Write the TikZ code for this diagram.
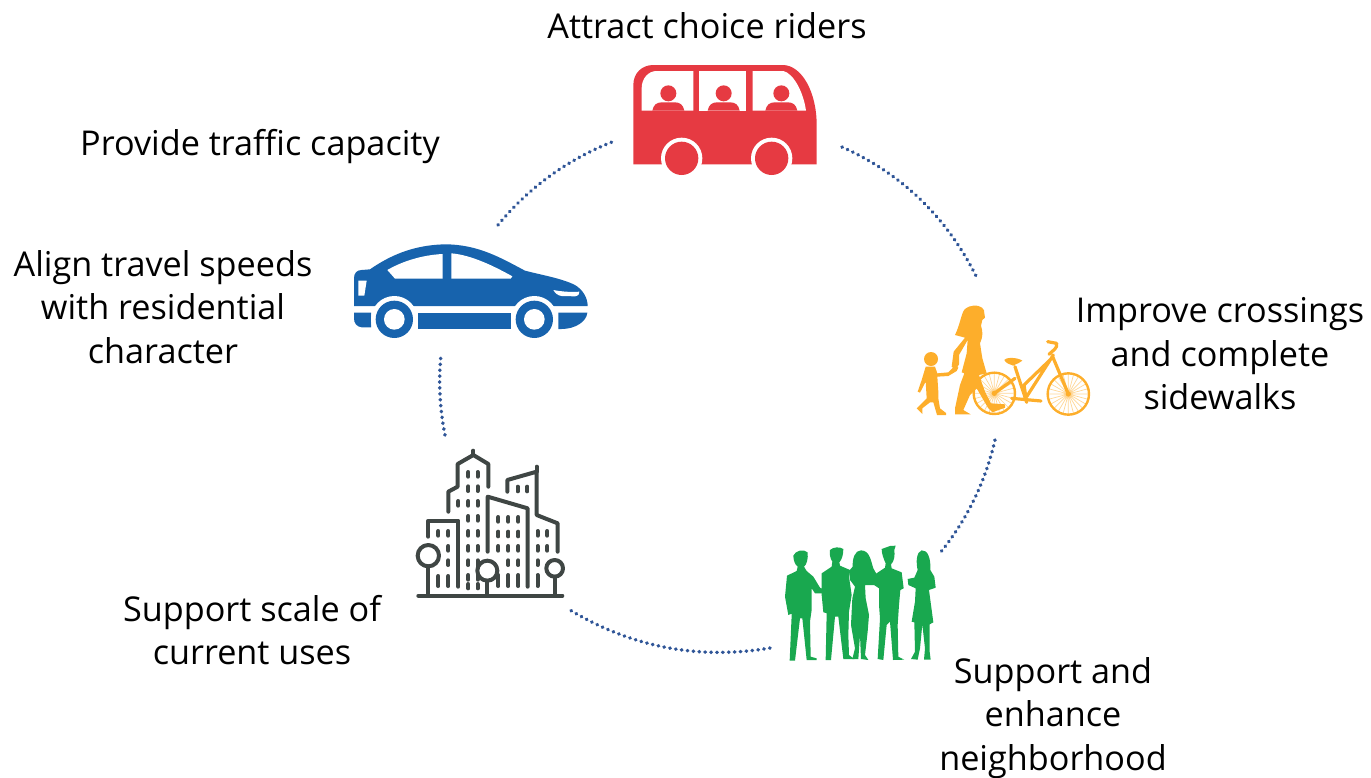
\documentclass[tikz,border=0pt]{standalone}
\usepackage{fontspec}
\usetikzlibrary{calc}
\setmainfont{Open Sans}
\definecolor{busred}{HTML}{E63A42}
\definecolor{carblue}{HTML}{1763AD}
\definecolor{walkorange}{HTML}{FDAE2B}
\definecolor{crowdgreen}{HTML}{19A84F}
\definecolor{citygrey}{HTML}{3F4644}
\definecolor{arcblue}{HTML}{2F5597}
\newcommand{\arcquad}[3]{\draw[arcline] (#1) .. controls ($(#1)!0.6667!(#2)$) and ($(#3)!0.6667!(#2)$) .. (#3);}
\tikzset{
  lbl/.style={align=center,inner sep=0pt,font=\fontsize{34.2}{43.5}\selectfont,text=black},
  arcline/.style={draw=arcblue,line width=3.6pt,line cap=round,dash pattern=on 0.4pt off 5.5pt},
  citystroke/.style={draw=citygrey,line width=4pt,line cap=round,line join=round},
  cityhole/.style={draw=citygrey,line width=4pt,line cap=round},
  icon/.style={scale=1/3},
}
\begin{document}
\begin{tikzpicture}[x=1pt,y=-1pt]
\useasboundingbox (0,0) rectangle (1371,777);
% labels
\node[lbl] (riders) at (707,26) {Attract choice riders};
\node[lbl] (capacity) at (260,147) {Provide traffic capacity};
\node[lbl] (speeds) at (163,307) {Align travel speeds\\with residential\\character};
\node[lbl] (crossings) at (1220,354) {Improve crossings\\and complete\\sidewalks};
\node[lbl] (neigh) at (1053,718) {Support and\\enhance\\neighborhood};
\node[lbl] (scale) at (252,630) {Support scale of\\current uses};
% arcs
\coordinate (a1) at (842,147); \coordinate (a1c) at (932.5,187.5); \coordinate (a2) at (977,278);
\coordinate (b1) at (995,440); \coordinate (b1c) at (980.5,503); \coordinate (b2) at (940,553);
\coordinate (c1) at (770,648); \coordinate (c1c) at (663,666); \coordinate (c2) at (570,610);
\coordinate (d1) at (445,435); \coordinate (d1c) at (437,395); \coordinate (d2) at (441,355);
\coordinate (e1) at (498,225); \coordinate (e1c) at (544,169); \coordinate (e2) at (612,142);
\arcquad{a1}{a1c}{a2}
\arcquad{b1}{b1c}{b2}
\arcquad{c1}{c1c}{c2}
\arcquad{d1}{d1c}{d2}
\arcquad{e1}{e1c}{e2}
% bus
\begin{scope}[shift={(620,55)},icon]
\fill[busred] (40,328) -- (40,90) .. controls (40,55) and (65,30) .. (100,30) -- (490,30) .. controls (545,32) and (590,110) .. (590,210) -- (590,328) -- cycle;
\fill[white] (65,167) -- (65,100) .. controls (65,70) and (85,48) .. (110,48) -- (220,48) -- (220,167) -- cycle;
\fill[white] (238,48) -- (378,48) -- (378,167) -- (238,167) -- cycle;
\fill[white] (398,167) -- (398,48) -- (490,48) .. controls (520,55) and (550,110) .. (558,167) -- cycle;
\foreach \p in {145,311,484}{
  \fill[busred] (\p,115) circle[radius=24];
  \fill[busred] (\p-48,167) .. controls (\p-45,150) and (\p-35,142) .. (\p-20,142) -- (\p+20,142) .. controls (\p+35,142) and (\p+45,150) .. (\p+48,167) -- cycle;
}
\foreach \p in {185,455}{
  \fill[white] (\p,310) circle[radius=62];
  \fill[busred] (\p,310) circle[radius=50];
}
\end{scope}
% car
\begin{scope}[shift={(345,235)},icon]
\fill[carblue] (27,213) -- (27,130) .. controls (27,115) and (35,105) .. (50,105) -- (75,103) .. controls (130,65) and (200,30) .. (300,28) .. controls (400,28) and (470,70) .. (540,107) .. controls (590,120) and (650,130) .. (690,150) .. controls (715,165) and (728,190) .. (728,213) -- cycle;
\fill[carblue] (27,233) -- (78,233) -- (78,277) -- (50,277) .. controls (35,275) and (27,265) .. (27,250) -- cycle;
\fill[carblue] (219,234) -- (497,234) -- (497,282) -- (219,282) -- cycle;
\fill[carblue] (640,233) -- (727,233) .. controls (725,260) and (690,282) .. (650,282) -- (640,282) -- cycle;
\fill[white] (127,105) .. controls (170,80) and (230,60) .. (293,57) -- (293,131) -- (150,131) -- cycle;
\fill[white] (319,55) .. controls (380,60) and (450,95) .. (502,124) -- (497,131) -- (319,131) -- cycle;
\fill[white] (40,137) -- (65,137) -- (58,182) -- (40,182) -- cycle;
\fill[white] (625,165) .. controls (650,170) and (680,172) .. (703,170) .. controls (705,175) and (700,183) .. (690,184) -- (650,183) .. controls (640,182) and (630,175) .. (625,165) -- cycle;
\foreach \p in {148,568}{
  \fill[white] (\p,253) circle[radius=70];
  \fill[carblue] (\p,253) circle[radius=56];
  \fill[white] (\p,253) circle[radius=31];
}
\end{scope}
% walkers and bicycle
\begin{scope}[shift={(905,295)},icon]
\foreach \c/\r in {268/295,490/297}{
  \draw[walkorange!50,line width=0.7pt] \foreach \a in {0,15,...,345}{(\c,\r) -- ++(\a:60)};
  \draw[walkorange,line width=2.4pt] (\c,\r) circle[radius=62];
  \fill[walkorange] (\c,\r) circle[radius=8];
}
\draw[walkorange,line width=3.2pt,line cap=round,line join=round] (268,295) -- (330,250) (330,215) -- (365,322) (440,190) -- (357,270) -- (365,322) (445,180) -- (365,305) (320,310) -- (408,318) (443,185) -- (490,297) (432,178) .. controls (445,165) and (458,160) .. (455,145) -- (428,140);
\fill[walkorange] (298,195) .. controls (305,185) and (340,188) .. (352,197) .. controls (345,205) and (335,205) .. (325,212) .. controls (315,208) and (302,205) .. (298,195) -- cycle;
\fill[walkorange] (205,32) .. controls (228,30) and (240,42) .. (238,55) -- (240,68) -- (232,75) -- (228,92) .. controls (234,110) and (234,125) .. (225,145) -- (232,190) -- (245,235) -- (222,240) -- (240,290) -- (258,325) -- (300,328) -- (300,338) -- (262,352) -- (250,340) -- (215,280) -- (195,300) -- (175,345) -- (197,358) -- (150,358) -- (150,340) -- (165,270) -- (178,235) -- (170,232) -- (185,175) -- (188,135) -- (162,180) -- (162,208) -- (152,225) -- (140,215) -- (146,170) -- (180,128) -- (150,120) .. controls (165,90) and (170,50) .. (180,42) .. controls (190,35) and (198,32) .. (205,32) -- cycle;
\fill[walkorange] (78,192) circle[radius=21];
\fill[walkorange] (62,215) -- (90,215) -- (97,235) -- (130,232) -- (150,212) -- (160,218) -- (155,228) -- (130,243) -- (97,245) -- (100,290) -- (100,310) -- (105,340) -- (123,354) -- (123,360) -- (96,360) -- (85,322) -- (75,322) -- (52,340) -- (52,357) -- (35,340) -- (65,310) -- (62,260) -- (45,293) -- (38,290) -- (50,255) -- cycle;
\end{scope}
% people
\begin{scope}[shift={(775,535)},icon]
\tikzset{every path/.style={fill=crowdgreen}}
\fill (55,62) .. controls (60,48) and (85,40) .. (98,52) .. controls (100,70) and (95,90) .. (87,95) -- (95,108) -- (115,125) -- (135,158) -- (150,165) -- (145,175) -- (120,175) -- (110,160) -- (110,225) -- (105,260) -- (107,365) -- (125,370) -- (125,375) -- (95,375) -- (82,250) -- (75,250) -- (60,377) -- (44,377) -- (50,240) -- (48,190) -- (52,235) -- (40,240) -- (30,185) -- (36,122) -- (65,108) -- (68,95) .. controls (60,90) and (55,75) .. (55,62) -- cycle;
\fill (165,45) .. controls (175,35) and (195,35) .. (205,42) .. controls (205,60) and (200,75) .. (193,82) -- (195,92) -- (225,105) -- (222,125) -- (230,180) -- (222,230) -- (220,300) -- (222,360) -- (238,372) -- (205,372) -- (190,245) -- (180,245) -- (168,375) -- (152,375) -- (155,235) -- (155,180) -- (158,235) -- (145,232) -- (140,180) -- (140,115) -- (170,95) -- (172,80) .. controls (165,70) and (163,55) .. (165,45) -- cycle;
\fill (258,46) .. controls (285,46) and (288,80) .. (295,100) -- (305,118) -- (298,150) -- (270,150) -- (272,190) -- (282,240) -- (278,290) -- (270,360) -- (280,375) -- (258,372) -- (255,300) -- (250,372) -- (232,372) -- (240,340) -- (228,270) -- (232,190) -- (240,155) -- (225,135) -- (222,108) -- (233,95) .. controls (232,70) and (240,46) .. (258,46) -- cycle;
\fill (320,42) -- (345,33) -- (362,32) -- (358,45) .. controls (360,60) and (358,80) .. (348,88) -- (350,100) -- (380,112) -- (386,160) -- (376,165) -- (372,210) -- (368,270) -- (370,365) -- (388,374) -- (354,375) -- (345,260) -- (335,270) -- (325,375) -- (308,372) -- (315,250) -- (312,210) -- (312,160) -- (290,145) -- (300,118) -- (330,98) -- (332,85) .. controls (325,70) and (320,55) .. (320,42) -- cycle;
\fill (440,46) .. controls (458,44) and (468,70) .. (466,105) -- (478,125) -- (482,158) -- (462,165) -- (475,262) -- (464,268) -- (464,350) -- (467,374) -- (447,374) -- (450,340) -- (442,268) -- (435,340) -- (428,374) -- (408,372) -- (420,350) -- (418,262) -- (410,260) -- (420,200) -- (422,160) -- (400,150) -- (398,132) -- (418,128) -- (428,105) .. controls (422,80) and (425,50) .. (440,46) -- cycle;
\end{scope}
% city
\begin{scope}[shift={(405,440)},icon]
\draw[citystroke] (130,215) -- (130,155) -- (158,140) -- (158,72) -- (205,45) -- (250,72) -- (250,140);
\draw[citystroke] (205,32) -- (205,45);
\draw[citystroke] (248,335) -- (248,170) -- (368,205) -- (368,440);
\draw[citystroke] (307,155) -- (307,120) -- (395,95) -- (395,225) -- (458,250) -- (458,335);
\draw[citystroke] (395,80) -- (395,95);
\draw[citystroke] (70,290) -- (70,242) -- (160,242) -- (160,440);
\draw[citystroke] (40,467) -- (472,467);
\draw[citystroke] (70,347) circle[radius=32];
\draw[citystroke] (70,379) -- (70,467);
\draw[citystroke] (247,392) circle[radius=30];
\draw[citystroke] (247,422) -- (247,467);
\draw[citystroke] (449,385) circle[radius=25];
\draw[citystroke] (449,410) -- (449,467);
\foreach \p/\q in {190/103,218/103,190/146,218/146,160/190,190/190,218/190,190/235,218/235,190/280,218/280,190/325,218/325,190/368,218/368,190/412,218/412,338/147,367/147,280/238,310/238,340/238,280/282,310/282,340/282,280/325,310/325,340/325,310/368,340/368,280/412,310/412,340/412,398/280,427/280,398/325,427/325,398/368,398/412,100/280,130/280,130/325,130/368}
  \draw[cityhole] (\p,\q-7) -- (\p,\q+7);
\foreach \p in {100,130,280,310,340,398}
  \draw[cityhole] (\p,408) -- (\p,438);
\foreach \p in {190,218}
  \draw[cityhole] (\p,432) -- (\p,445);
\end{scope}
\end{tikzpicture}
\end{document}
